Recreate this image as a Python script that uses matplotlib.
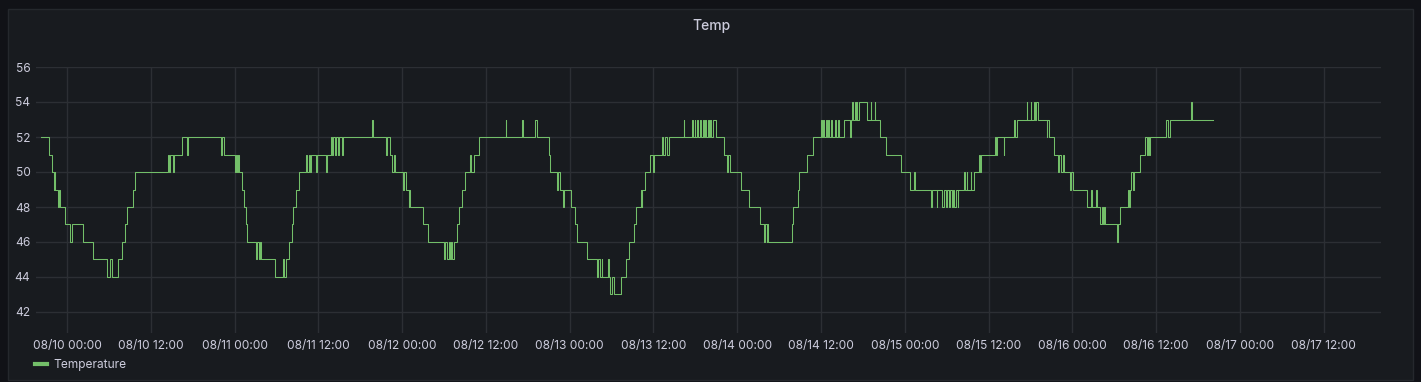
import numpy as np
import pandas as pd
import matplotlib
matplotlib.use("Agg")
import matplotlib.pyplot as plt
import matplotlib.dates as mdates
from matplotlib.lines import Line2D
from matplotlib.patches import Rectangle

# hours since 08/10 00:00 where the reading changes, and the new reading
hours = [
    -3.73, -2.54, -2.19, -1.86, -1.72, -1.65, -1.29, -1.15, -1.00, -0.24,
    0.47, 0.76, 2.34, 3.73, 5.78, 6.16, 6.41, 7.35, 7.84, 8.32,
    8.65, 9.51, 9.79, 14.44, 14.67, 14.77, 15.24, 15.34, 16.44, 17.25,
    17.35, 22.04, 22.22, 22.55, 24.09, 24.23, 24.42, 24.52, 24.66, 25.05,
    25.42, 25.66, 25.85, 27.05, 27.24, 27.53, 27.67, 27.81, 29.82, 30.92,
    31.11, 31.30, 31.73, 32.16, 32.30, 32.87, 33.26, 34.27, 34.41, 34.70,
    34.77, 34.88, 35.66, 35.74, 37.09, 37.18, 37.81, 37.99, 38.14, 38.42,
    38.57, 38.85, 38.93, 39.43, 39.50, 43.68, 43.77, 45.69, 45.88, 46.31,
    46.60, 46.88, 46.93, 48.07, 48.24, 48.50, 48.93, 49.03, 49.18, 51.00,
    51.66, 54.05, 54.19, 54.48, 54.70, 54.91, 55.05, 55.20, 55.38, 55.87,
    56.20, 56.59, 56.96, 57.78, 57.92, 58.25, 59.02, 62.84, 62.91, 65.19,
    65.26, 67.00, 67.34, 69.00, 69.25, 70.21, 70.32, 70.68, 71.07, 71.18,
    72.12, 72.69, 72.98, 74.51, 75.84, 76.06, 76.27, 76.56, 76.66, 77.46,
    77.56, 77.75, 77.99, 78.32, 79.28, 80.10, 80.47, 81.19, 81.53, 82.15,
    82.29, 82.39, 82.77, 83.48, 83.91, 84.11, 85.16, 85.38, 85.59, 85.88,
    86.21, 88.36, 88.43, 89.56, 89.68, 89.89, 89.96, 90.18, 90.32, 90.61,
    90.75, 91.04, 91.18, 91.40, 91.54, 91.76, 91.97, 92.04, 92.26, 92.55,
    92.90, 94.09, 94.58, 94.69, 94.95, 96.53, 97.68, 99.26, 99.83, 100.00,
    100.22, 100.29, 100.40, 103.80, 104.04, 104.66, 104.90, 105.95, 106.85, 107.96,
    108.10, 108.24, 108.46, 108.67, 108.82, 108.96, 109.18, 109.39, 109.53, 109.96,
    110.11, 110.39, 110.54, 111.30, 112.16, 112.23, 112.50, 112.62, 112.83, 112.98,
    113.12, 113.22, 113.45, 114.55, 115.13, 115.20, 115.70, 115.77, 116.46, 117.28,
    119.43, 120.76, 121.33, 121.48, 123.73, 123.87, 124.54, 124.66, 125.31, 125.59,
    125.88, 126.02, 126.31, 126.45, 126.74, 126.88, 127.10, 127.31, 127.56, 127.64,
    128.50, 128.60, 128.89, 128.96, 129.46, 129.53, 129.85, 130.65, 130.75, 130.94,
    132.90, 133.05, 133.19, 134.15, 134.24, 135.67, 135.84, 136.06, 137.45, 137.52,
    138.07, 138.14, 138.54, 138.71, 138.85, 139.03, 140.32, 140.43, 140.69, 141.41,
    141.89, 142.08, 142.37, 142.65, 142.84, 143.70, 143.80, 144.13, 146.14, 146.67,
    146.78, 147.38, 147.48, 148.00, 148.17, 148.39, 148.53, 148.72, 150.39, 150.54,
    150.82, 152.02, 152.16, 152.30, 152.40, 152.62, 152.88, 153.73, 154.45, 154.62,
    154.84, 154.98, 155.13, 157.42, 157.63, 157.99, 161.01, 161.08, 164.20,
]
temps = [
    52, 51, 50, 49, 50, 49, 48, 49, 48, 47,
    46, 47, 46, 45, 44, 45, 44, 45, 46, 47,
    48, 49, 50, 51, 50, 51, 50, 51, 52, 51,
    52, 51, 52, 51, 50, 51, 50, 51, 50, 49,
    48, 47, 46, 45, 46, 45, 46, 45, 44, 45,
    44, 45, 46, 47, 48, 49, 50, 51, 50, 51,
    50, 51, 50, 51, 50, 51, 52, 51, 52, 51,
    52, 51, 52, 51, 52, 53, 52, 51, 52, 51,
    50, 51, 50, 49, 50, 49, 48, 49, 48, 47,
    46, 45, 46, 45, 46, 45, 46, 45, 46, 47,
    48, 49, 50, 51, 50, 51, 52, 53, 52, 53,
    52, 53, 52, 51, 50, 49, 50, 49, 48, 49,
    48, 47, 46, 45, 44, 45, 44, 45, 44, 45,
    44, 43, 44, 43, 44, 45, 46, 47, 48, 49,
    48, 49, 50, 51, 50, 51, 52, 51, 52, 51,
    52, 53, 52, 53, 52, 53, 52, 53, 52, 53,
    52, 53, 52, 53, 52, 53, 52, 53, 52, 53,
    52, 51, 50, 51, 50, 49, 48, 47, 46, 47,
    46, 47, 46, 47, 48, 49, 50, 51, 52, 53,
    52, 53, 52, 53, 52, 53, 52, 53, 52, 53,
    52, 53, 52, 53, 52, 53, 54, 53, 54, 53,
    54, 53, 54, 53, 54, 53, 54, 53, 52, 51,
    50, 49, 50, 49, 48, 49, 48, 49, 48, 49,
    48, 49, 48, 49, 48, 49, 48, 49, 48, 49,
    50, 49, 50, 49, 50, 49, 50, 51, 50, 51,
    52, 51, 52, 51, 52, 53, 52, 53, 54, 53,
    54, 53, 54, 53, 54, 53, 52, 53, 52, 51,
    50, 51, 50, 51, 50, 49, 50, 49, 48, 49,
    48, 49, 48, 47, 48, 47, 48, 47, 46, 47,
    48, 49, 48, 49, 50, 49, 50, 51, 52, 51,
    52, 51, 52, 53, 52, 53, 54, 53, 53,
]
y_ticks = [42, 44, 46, 48, 50, 52, 54, 56]
series_name = "Temperature"
title = "Temp"

start = pd.Timestamp("2023-08-10 00:00")
times = start + pd.to_timedelta(hours, unit="h")

W, H = 1421, 382
bg_outer = "#111217"
bg_panel = "#181b1f"
text_col = "#ccccdc"
grid_col = "#2c2f34"
green = "#73bf69"

plt.rcParams["font.family"] = ["Inter", "DejaVu Sans"]

fig = plt.figure(figsize=(W / 100, H / 100), dpi=100)
fig.patch.set_facecolor(bg_outer)
panel = Rectangle((8 / W, 1 - 380 / H), (1413 - 8) / W, (380 - 9) / H,
                  transform=fig.transFigure, facecolor=bg_panel,
                  edgecolor="#25282d", linewidth=1, zorder=-10)
fig.add_artist(panel)

ax = fig.add_axes([36 / W, 1 - 333 / H, (1381 - 36) / W, (333 - 67) / H])
ax.set_zorder(1)
ax.set_facecolor("none")
ax.plot(times, temps, drawstyle="steps-post", color=green, linewidth=0.75)

ax.set_xlim(start + pd.Timedelta(hours=-4.44), start + pd.Timedelta(hours=188.2))
ax.set_ylim(40.8, 56)
ax.set_yticks(y_ticks)
ax.xaxis.set_major_locator(mdates.HourLocator(byhour=[0, 12]))
ax.xaxis.set_major_formatter(mdates.DateFormatter("%m/%d %H:%M"))
ax.grid(True, color=grid_col, linewidth=1)
ax.set_axisbelow(True)
for s in ax.spines.values():
    s.set_visible(False)
ax.tick_params(axis="both", length=0, colors=text_col, labelsize=8.6)
ax.tick_params(axis="y", pad=4)
ax.tick_params(axis="x", pad=5)

fig.text(711 / W, 1 - 26 / H, title, ha="center", va="center",
         color=text_col, fontsize=10, fontweight="medium")

fig.legend(handles=[Line2D([], [], color=green, linewidth=3)], labels=[series_name],
           loc="center left", bbox_to_anchor=(24 / W, 1 - 365 / H), frameon=False,
           handlelength=1.0, handletextpad=0.55, fontsize=8.6, labelcolor=text_col)

fig.savefig("out.png", dpi=100, facecolor=fig.get_facecolor())
